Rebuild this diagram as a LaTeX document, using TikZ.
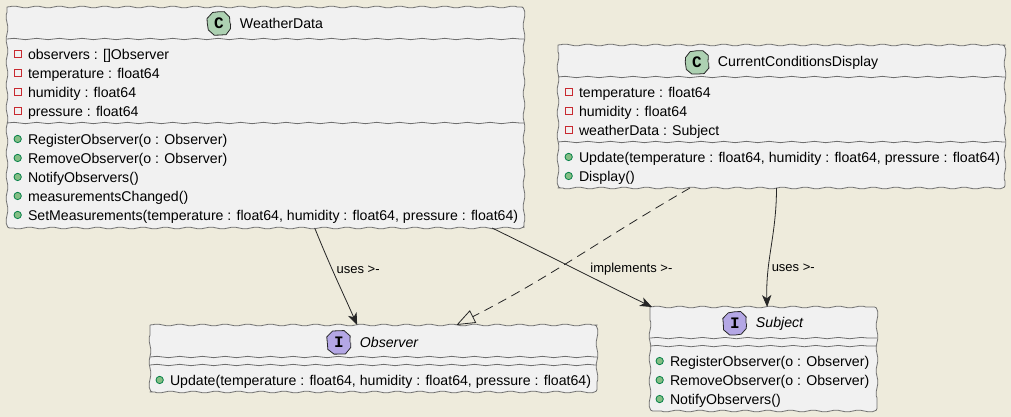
\documentclass[tikz,border=0pt]{standalone}
\usepackage{fontspec}
\setmainfont{Liberation Sans}
\setmonofont{Liberation Mono}
\usetikzlibrary{arrows.meta,positioning,decorations.pathmorphing}
\definecolor{sandbg}{HTML}{EEEBDC}
\definecolor{boxgray}{HTML}{F1F1F1}
\definecolor{edgegray}{HTML}{6E6E6E}
\definecolor{classgreen}{HTML}{ADD1B2}
\definecolor{ifacepurple}{HTML}{B4A7E5}
\definecolor{privred}{HTML}{C82930}
\definecolor{pubgreen}{HTML}{84BE84}
\definecolor{pubedge}{HTML}{038048}

\begin{document}
\begin{tikzpicture}[x=0.75pt,y=0.75pt,>={Stealth[length=9pt,width=7pt,inset=2.5pt]},font=\fontsize{10.6}{12}\selectfont,
wobbly/.style={decoration={snake,segment length=17pt,amplitude=0.5pt}},
classbox/.style={outer sep=0pt,inner sep=0pt,minimum width=#1},
classedge/.style={draw=edgegray,fill=boxgray,line width=0.6pt,wobbly,rounded corners=2pt},
classicon/.style={circle,draw=black!85,fill=#1,line width=0.6pt,minimum size=16.5pt,inner sep=0pt,font=\ttfamily\bfseries\fontsize{12}{12}\selectfont,decorate,decoration={random steps,segment length=5pt,amplitude=0.4pt}},
classname/.style={right=7pt of #1,inner sep=0pt},
memberrow/.style={anchor=north west,inner sep=0pt,outer sep=0pt,minimum height=14.25pt,text height=10pt,text depth=1.2pt},
nextrow/.style={memberrow,below right=0pt and 0pt of #1.south west},
privicon/.style={rectangle,draw=privred,line width=0.6pt,minimum size=5pt,inner sep=0pt},
pubicon/.style={circle,draw=pubedge,fill=pubgreen,line width=0.6pt,minimum size=5.5pt,inner sep=0pt},
sepline/.style={draw=edgegray,line width=0.6pt,wobbly,decorate},
linkline/.style={draw=black!85,line width=0.6pt},
linklabel/.style={inner sep=0pt,font=\fontsize{9.75}{12}\selectfont}]
\useasboundingbox (0,0) rectangle (1011,-417);
\fill[sandbg] (0,0) rectangle (1011,-417);

\node[classbox=387.75pt,minimum height=165.75pt] (weatherdata) at (265.5,-117.5) {};
\node[classbox=335.25pt,minimum height=107.25pt,below right=28.5pt and 25.5pt of weatherdata.north east] (display) {};
\node[classbox=335.25pt,minimum height=50.25pt,below right=72.75pt and 107.25pt of weatherdata.south west] (observer) {};
\node[classbox=170.25pt,minimum height=78pt,below right=89.25pt and 69pt of display.south west] (subject) {};
\foreach \cls in {weatherdata,display,observer,subject}
  \draw[classedge] (\cls.north west) decorate {-- (\cls.north east)} decorate {-- (\cls.south east)} decorate {-- (\cls.south west)} decorate {-- (\cls.north west)};

\node[classicon=classgreen,below=3.75pt of weatherdata.north,xshift=-34.9pt] (wdicon) {C};
\node[classname=wdicon] (wdname) {WeatherData};
\node[classicon=classgreen,below=4.5pt of display.north,xshift=-63.4pt] (dispicon) {C};
\node[classname=dispicon] (dispname) {CurrentConditionsDisplay};
\node[classicon=ifacepurple,below=4.5pt of observer.north,xshift=-25.9pt] (obsicon) {I};
\node[classname=obsicon] (obsname) {\itshape Observer};
\node[classicon=ifacepurple,below=3.75pt of subject.north,xshift=-21.4pt] (subicon) {I};
\node[classname=subicon] (subname) {\itshape Subject};

\node[memberrow,below right=28.1pt and 15.75pt of weatherdata.north west] (wda) {observers : []Observer};
\node[nextrow=wda] (wdb) {temperature : float64};
\node[nextrow=wdb] (wdc) {humidity : float64};
\node[nextrow=wdc] (wdd) {pressure : float64};
\node[memberrow,below right=6.75pt and 0pt of wdd.south west] (wde) {RegisterObserver(o : Observer)};
\node[nextrow=wde] (wdf) {RemoveObserver(o : Observer)};
\node[nextrow=wdf] (wdg) {NotifyObservers()};
\node[nextrow=wdg] (wdh) {measurementsChanged()};
\node[nextrow=wdh] (wdi) {SetMeasurements(temperature : float64, humidity : float64, pressure : float64)};

\node[memberrow,below right=28.1pt and 15.75pt of display.north west] (dispa) {temperature : float64};
\node[nextrow=dispa] (dispb) {humidity : float64};
\node[nextrow=dispb] (dispc) {weatherData : Subject};
\node[memberrow,below right=6pt and 0pt of dispc.south west] (dispd) {Update(temperature : float64, humidity : float64, pressure : float64)};
\node[nextrow=dispd] (dispe) {Display()};

\node[memberrow,below right=34.1pt and 15pt of observer.north west] (obsa) {Update(temperature : float64, humidity : float64, pressure : float64)};

\node[memberrow,below right=33.4pt and 15pt of subject.north west] (suba) {RegisterObserver(o : Observer)};
\node[nextrow=suba] (subb) {RemoveObserver(o : Observer)};
\node[nextrow=subb] (subc) {NotifyObservers()};

\foreach \row in {wda,wdb,wdc,wdd,dispa,dispb,dispc}
  \node[privicon,left=4.9pt of \row] (\row icon) {};
\foreach \row in {wde,wdf,wdg,wdh,wdi,dispd,dispe,obsa,suba,subb,subc}
  \node[pubicon,left=4.7pt of \row] (\row icon) {};

\foreach \cls/\row/\gap in {weatherdata/wda.north/4.1pt,weatherdata/wdd.south/-1.9pt,display/dispa.north/4.1pt,display/dispc.south/-1.9pt,observer/obsa.north/10.1pt,observer/obsa.north/4.1pt,subject/suba.north/10.1pt,subject/suba.north/4.1pt}
  \draw[sepline] ([yshift=\gap]\cls.west |- \row) -- ([yshift=\gap]\cls.east |- \row);

\draw[linkline,->] (weatherdata.-66) to[out=-68,in=114] node[linklabel,pos=0.42,right=3pt] (usesobs) {uses >-} (observer.116);
\draw[linkline,->] (weatherdata.-26) to[out=-26,in=154] node[linklabel,pos=0.55,right=8pt,yshift=1.5pt] (implsub) {implements >-} (subject.155);
\draw[linkline,->] (display.-94) to[out=-90,in=92] node[linklabel,pos=0.68,right=2pt] (usessub) {uses >-} (subject.86);
\draw[linkline,dashed,dash pattern=on 7pt off 4.5pt,-{Triangle[open,length=14pt,width=10.5pt,fill=sandbg]}] (display.-142) to[out=-150,in=27] (observer.22);
\end{tikzpicture}
\end{document}
